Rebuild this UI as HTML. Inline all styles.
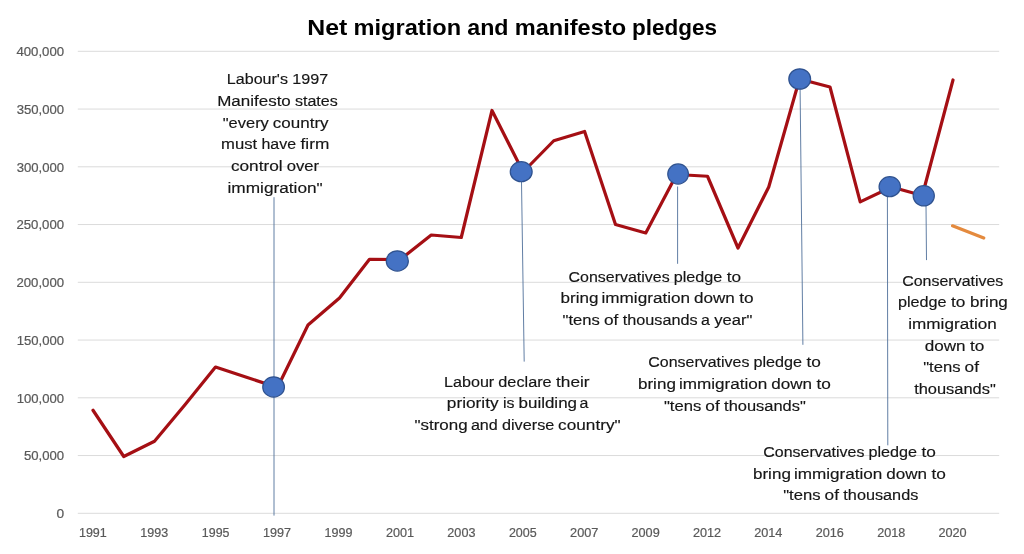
<!DOCTYPE html>
<html lang="en"><head><meta charset="utf-8"><title>Net migration and manifesto pledges</title>
<style>html,body{margin:0;padding:0;background:#fff}body{width:1024px;height:554px;overflow:hidden}svg{display:block}text{font-family:"Liberation Sans",Arial,sans-serif;font-kerning:none;white-space:pre}.ann{font-size:15.2px;fill:#161616;stroke:#161616;stroke-width:.16px}.ax{font-size:12px;fill:#595959;stroke:#595959;stroke-width:.2px}.ttl{font-size:22.2px;font-weight:bold;fill:#000}</style></head><body>
<svg width="1024" height="554" viewBox="0 0 1024 554">
<rect width="1024" height="554" fill="#fff"/>
<g stroke="#dbdbdb" stroke-width="1" fill="none">
<line x1="77.8" y1="513.30" x2="999.2" y2="513.30"/>
<line x1="77.8" y1="455.55" x2="999.2" y2="455.55"/>
<line x1="77.8" y1="397.80" x2="999.2" y2="397.80"/>
<line x1="77.8" y1="340.05" x2="999.2" y2="340.05"/>
<line x1="77.8" y1="282.30" x2="999.2" y2="282.30"/>
<line x1="77.8" y1="224.55" x2="999.2" y2="224.55"/>
<line x1="77.8" y1="166.80" x2="999.2" y2="166.80"/>
<line x1="77.8" y1="109.05" x2="999.2" y2="109.05"/>
<line x1="77.8" y1="51.30" x2="999.2" y2="51.30"/>
</g>
<text class="ax" y="518.20"><tspan x="56.50" textLength="7.64" lengthAdjust="spacingAndGlyphs">0</tspan></text>
<text class="ax" y="460.45"><tspan x="23.93" textLength="40.18" lengthAdjust="spacingAndGlyphs">50,000</tspan></text>
<text class="ax" y="402.70"><tspan x="16.74" textLength="47.37" lengthAdjust="spacingAndGlyphs">100,000</tspan></text>
<text class="ax" y="344.95"><tspan x="16.74" textLength="47.37" lengthAdjust="spacingAndGlyphs">150,000</tspan></text>
<text class="ax" y="287.20"><tspan x="16.48" textLength="47.64" lengthAdjust="spacingAndGlyphs">200,000</tspan></text>
<text class="ax" y="229.45"><tspan x="16.48" textLength="47.64" lengthAdjust="spacingAndGlyphs">250,000</tspan></text>
<text class="ax" y="171.70"><tspan x="16.66" textLength="47.45" lengthAdjust="spacingAndGlyphs">300,000</tspan></text>
<text class="ax" y="113.95"><tspan x="16.66" textLength="47.45" lengthAdjust="spacingAndGlyphs">350,000</tspan></text>
<text class="ax" y="56.20"><tspan x="16.44" textLength="47.68" lengthAdjust="spacingAndGlyphs">400,000</tspan></text>
<text class="ax" y="537.30"><tspan x="78.97" textLength="27.82" lengthAdjust="spacingAndGlyphs">1991</tspan></text>
<text class="ax" y="537.30"><tspan x="140.32" textLength="27.86" lengthAdjust="spacingAndGlyphs">1993</tspan></text>
<text class="ax" y="537.30"><tspan x="201.88" textLength="27.53" lengthAdjust="spacingAndGlyphs">1995</tspan></text>
<text class="ax" y="537.30"><tspan x="263.07" textLength="28.03" lengthAdjust="spacingAndGlyphs">1997</tspan></text>
<text class="ax" y="537.30"><tspan x="324.49" textLength="27.96" lengthAdjust="spacingAndGlyphs">1999</tspan></text>
<text class="ax" y="537.30"><tspan x="386.00" textLength="28.09" lengthAdjust="spacingAndGlyphs">2001</tspan></text>
<text class="ax" y="537.30"><tspan x="447.35" textLength="28.12" lengthAdjust="spacingAndGlyphs">2003</tspan></text>
<text class="ax" y="537.30"><tspan x="508.90" textLength="27.79" lengthAdjust="spacingAndGlyphs">2005</tspan></text>
<text class="ax" y="537.30"><tspan x="570.11" textLength="28.29" lengthAdjust="spacingAndGlyphs">2007</tspan></text>
<text class="ax" y="537.30"><tspan x="631.52" textLength="28.22" lengthAdjust="spacingAndGlyphs">2009</tspan></text>
<text class="ax" y="537.30"><tspan x="692.98" textLength="28.14" lengthAdjust="spacingAndGlyphs">2012</tspan></text>
<text class="ax" y="537.30"><tspan x="754.20" textLength="28.24" lengthAdjust="spacingAndGlyphs">2014</tspan></text>
<text class="ax" y="537.30"><tspan x="815.72" textLength="28.17" lengthAdjust="spacingAndGlyphs">2016</tspan></text>
<text class="ax" y="537.30"><tspan x="877.16" textLength="28.09" lengthAdjust="spacingAndGlyphs">2018</tspan></text>
<text class="ax" y="537.30"><tspan x="938.46" textLength="28.23" lengthAdjust="spacingAndGlyphs">2020</tspan></text>
<text class="ttl" y="34.60"><tspan x="307.34" textLength="40.06" lengthAdjust="spacingAndGlyphs">Net</tspan> <tspan x="353.59" textLength="107.48" lengthAdjust="spacingAndGlyphs">migration</tspan> <tspan x="467.27" textLength="41.26" lengthAdjust="spacingAndGlyphs">and</tspan> <tspan x="514.72" textLength="111.33" lengthAdjust="spacingAndGlyphs">manifesto</tspan> <tspan x="632.05" textLength="85.08" lengthAdjust="spacingAndGlyphs">pledges</tspan></text>
<g stroke="#4f6f9a" stroke-width="0.9" fill="none">
<line x1="274.0" y1="197.2" x2="274.0" y2="515.6"/>
<line x1="521.5" y1="182" x2="524.2" y2="361.6"/>
<line x1="677.6" y1="186.5" x2="677.6" y2="263.8"/>
<line x1="800.1" y1="89" x2="802.9" y2="344.8"/>
<line x1="887.4" y1="196" x2="887.8" y2="445.3"/>
<line x1="926.0" y1="205" x2="926.5" y2="260.1"/>
</g>
<polyline fill="none" stroke="#a50f14" stroke-width="3.2" stroke-linejoin="round" stroke-linecap="round" points="93,410.25 123.75,456.5 154.5,441.25 185.2,404.5 215.5,367 246.5,377.3 277.5,387.5 308,325 339.5,298 369.5,259.25 400.3,259.5 431.25,235 461.25,237.5 492,110.5 523.1,172 553.75,140.75 584.6,131.5 615.5,224.5 645.75,233 676.6,174.5 707.5,176.25 738,248 768.75,187 799.5,79 830,87 860.2,201.9 891.5,187 922.3,195.5 953,80"/>
<polyline fill="none" stroke="#e48a3e" stroke-width="3.2" stroke-linecap="round" points="952.5,225.8 983.8,238"/>
<g fill="#4472c4" stroke="#2f528f" stroke-width="1.2">
<ellipse cx="273.6" cy="386.97" rx="10.85" ry="10.12"/>
<ellipse cx="397.3" cy="260.97" rx="11.05" ry="10.12"/>
<ellipse cx="521.2" cy="171.7" rx="10.95" ry="10.05"/>
<ellipse cx="678.1" cy="174.0" rx="10.35" ry="10.05"/>
<ellipse cx="799.7" cy="79.0" rx="10.90" ry="10.20"/>
<ellipse cx="889.76" cy="186.7" rx="10.70" ry="10.05"/>
<ellipse cx="923.75" cy="195.8" rx="10.60" ry="10.10"/>
</g>
<text class="ann" y="84.00"><tspan x="226.85" textLength="61.13" lengthAdjust="spacingAndGlyphs">Labour's</tspan> <tspan x="292.32" textLength="35.92" lengthAdjust="spacingAndGlyphs">1997</tspan></text>
<text class="ann" y="105.80"><tspan x="217.23" textLength="73.58" lengthAdjust="spacingAndGlyphs">Manifesto</tspan> <tspan x="294.92" textLength="42.93" lengthAdjust="spacingAndGlyphs">states</tspan></text>
<text class="ann" y="127.50"><tspan x="222.77" textLength="46.09" lengthAdjust="spacingAndGlyphs">&quot;every</tspan> <tspan x="272.84" textLength="55.72" lengthAdjust="spacingAndGlyphs">country</tspan></text>
<text class="ann" y="149.10"><tspan x="221.07" textLength="36.03" lengthAdjust="spacingAndGlyphs">must</tspan> <tspan x="261.44" textLength="34.61" lengthAdjust="spacingAndGlyphs">have</tspan> <tspan x="300.54" textLength="28.74" lengthAdjust="spacingAndGlyphs">firm</tspan></text>
<text class="ann" y="170.75"><tspan x="230.90" textLength="51.77" lengthAdjust="spacingAndGlyphs">control</tspan> <tspan x="286.76" textLength="32.38" lengthAdjust="spacingAndGlyphs">over</tspan></text>
<text class="ann" y="192.50"><tspan x="227.54" textLength="95.19" lengthAdjust="spacingAndGlyphs">immigration&quot;</tspan></text>
<text class="ann" y="386.50"><tspan x="444.04" textLength="50.21" lengthAdjust="spacingAndGlyphs">Labour</tspan> <tspan x="498.30" textLength="53.38" lengthAdjust="spacingAndGlyphs">declare</tspan> <tspan x="556.01" textLength="33.56" lengthAdjust="spacingAndGlyphs">their</tspan></text>
<text class="ann" y="408.40"><tspan x="446.85" textLength="51.76" lengthAdjust="spacingAndGlyphs">priority</tspan> <tspan x="503.00" textLength="11.53" lengthAdjust="spacingAndGlyphs">is</tspan> <tspan x="518.51" textLength="58.51" lengthAdjust="spacingAndGlyphs">building</tspan> <tspan x="579.54" textLength="8.88" lengthAdjust="spacingAndGlyphs">a</tspan></text>
<text class="ann" y="429.60"><tspan x="414.44" textLength="53.19" lengthAdjust="spacingAndGlyphs">&quot;strong</tspan> <tspan x="470.90" textLength="26.90" lengthAdjust="spacingAndGlyphs">and</tspan> <tspan x="501.99" textLength="52.33" lengthAdjust="spacingAndGlyphs">diverse</tspan> <tspan x="558.12" textLength="62.56" lengthAdjust="spacingAndGlyphs">country&quot;</tspan></text>
<text class="ann" y="281.50"><tspan x="568.56" textLength="101.12" lengthAdjust="spacingAndGlyphs">Conservatives</tspan> <tspan x="673.66" textLength="48.64" lengthAdjust="spacingAndGlyphs">pledge</tspan> <tspan x="726.75" textLength="14.39" lengthAdjust="spacingAndGlyphs">to</tspan></text>
<text class="ann" y="303.40"><tspan x="560.62" textLength="37.91" lengthAdjust="spacingAndGlyphs">bring</tspan> <tspan x="601.56" textLength="88.48" lengthAdjust="spacingAndGlyphs">immigration</tspan> <tspan x="693.94" textLength="40.80" lengthAdjust="spacingAndGlyphs">down</tspan> <tspan x="739.24" textLength="14.39" lengthAdjust="spacingAndGlyphs">to</tspan></text>
<text class="ann" y="324.60"><tspan x="562.59" textLength="37.33" lengthAdjust="spacingAndGlyphs">&quot;tens</tspan> <tspan x="604.01" textLength="14.39" lengthAdjust="spacingAndGlyphs">of</tspan> <tspan x="622.77" textLength="74.94" lengthAdjust="spacingAndGlyphs">thousands</tspan> <tspan x="701.02" textLength="8.88" lengthAdjust="spacingAndGlyphs">a</tspan> <tspan x="714.30" textLength="38.21" lengthAdjust="spacingAndGlyphs">year&quot;</tspan></text>
<text class="ann" y="367.30"><tspan x="648.31" textLength="101.12" lengthAdjust="spacingAndGlyphs">Conservatives</tspan> <tspan x="753.41" textLength="48.64" lengthAdjust="spacingAndGlyphs">pledge</tspan> <tspan x="806.50" textLength="14.39" lengthAdjust="spacingAndGlyphs">to</tspan></text>
<text class="ann" y="389.20"><tspan x="637.97" textLength="37.91" lengthAdjust="spacingAndGlyphs">bring</tspan> <tspan x="678.91" textLength="88.48" lengthAdjust="spacingAndGlyphs">immigration</tspan> <tspan x="771.29" textLength="40.80" lengthAdjust="spacingAndGlyphs">down</tspan> <tspan x="816.59" textLength="14.39" lengthAdjust="spacingAndGlyphs">to</tspan></text>
<text class="ann" y="411.00"><tspan x="663.93" textLength="37.33" lengthAdjust="spacingAndGlyphs">&quot;tens</tspan> <tspan x="705.35" textLength="14.39" lengthAdjust="spacingAndGlyphs">of</tspan> <tspan x="724.11" textLength="81.65" lengthAdjust="spacingAndGlyphs">thousands&quot;</tspan></text>
<text class="ann" y="456.60"><tspan x="763.31" textLength="101.12" lengthAdjust="spacingAndGlyphs">Conservatives</tspan> <tspan x="868.41" textLength="48.64" lengthAdjust="spacingAndGlyphs">pledge</tspan> <tspan x="921.50" textLength="14.39" lengthAdjust="spacingAndGlyphs">to</tspan></text>
<text class="ann" y="478.50"><tspan x="752.97" textLength="37.91" lengthAdjust="spacingAndGlyphs">bring</tspan> <tspan x="793.91" textLength="88.48" lengthAdjust="spacingAndGlyphs">immigration</tspan> <tspan x="886.29" textLength="40.80" lengthAdjust="spacingAndGlyphs">down</tspan> <tspan x="931.59" textLength="14.39" lengthAdjust="spacingAndGlyphs">to</tspan></text>
<text class="ann" y="500.40"><tspan x="783.18" textLength="37.33" lengthAdjust="spacingAndGlyphs">&quot;tens</tspan> <tspan x="824.61" textLength="14.39" lengthAdjust="spacingAndGlyphs">of</tspan> <tspan x="843.36" textLength="74.94" lengthAdjust="spacingAndGlyphs">thousands</tspan></text>
<text class="ann" y="285.60"><tspan x="902.22" textLength="101.12" lengthAdjust="spacingAndGlyphs">Conservatives</tspan></text>
<text class="ann" y="307.10"><tspan x="897.90" textLength="48.64" lengthAdjust="spacingAndGlyphs">pledge</tspan> <tspan x="950.99" textLength="14.39" lengthAdjust="spacingAndGlyphs">to</tspan> <tspan x="969.95" textLength="37.91" lengthAdjust="spacingAndGlyphs">bring</tspan></text>
<text class="ann" y="328.60"><tspan x="908.30" textLength="88.48" lengthAdjust="spacingAndGlyphs">immigration</tspan></text>
<text class="ann" y="350.80"><tspan x="924.67" textLength="40.80" lengthAdjust="spacingAndGlyphs">down</tspan> <tspan x="969.97" textLength="14.39" lengthAdjust="spacingAndGlyphs">to</tspan></text>
<text class="ann" y="372.30"><tspan x="923.15" textLength="37.33" lengthAdjust="spacingAndGlyphs">&quot;tens</tspan> <tspan x="964.57" textLength="14.39" lengthAdjust="spacingAndGlyphs">of</tspan></text>
<text class="ann" y="394.00"><tspan x="914.15" textLength="81.65" lengthAdjust="spacingAndGlyphs">thousands&quot;</tspan></text>
</svg></body></html>
